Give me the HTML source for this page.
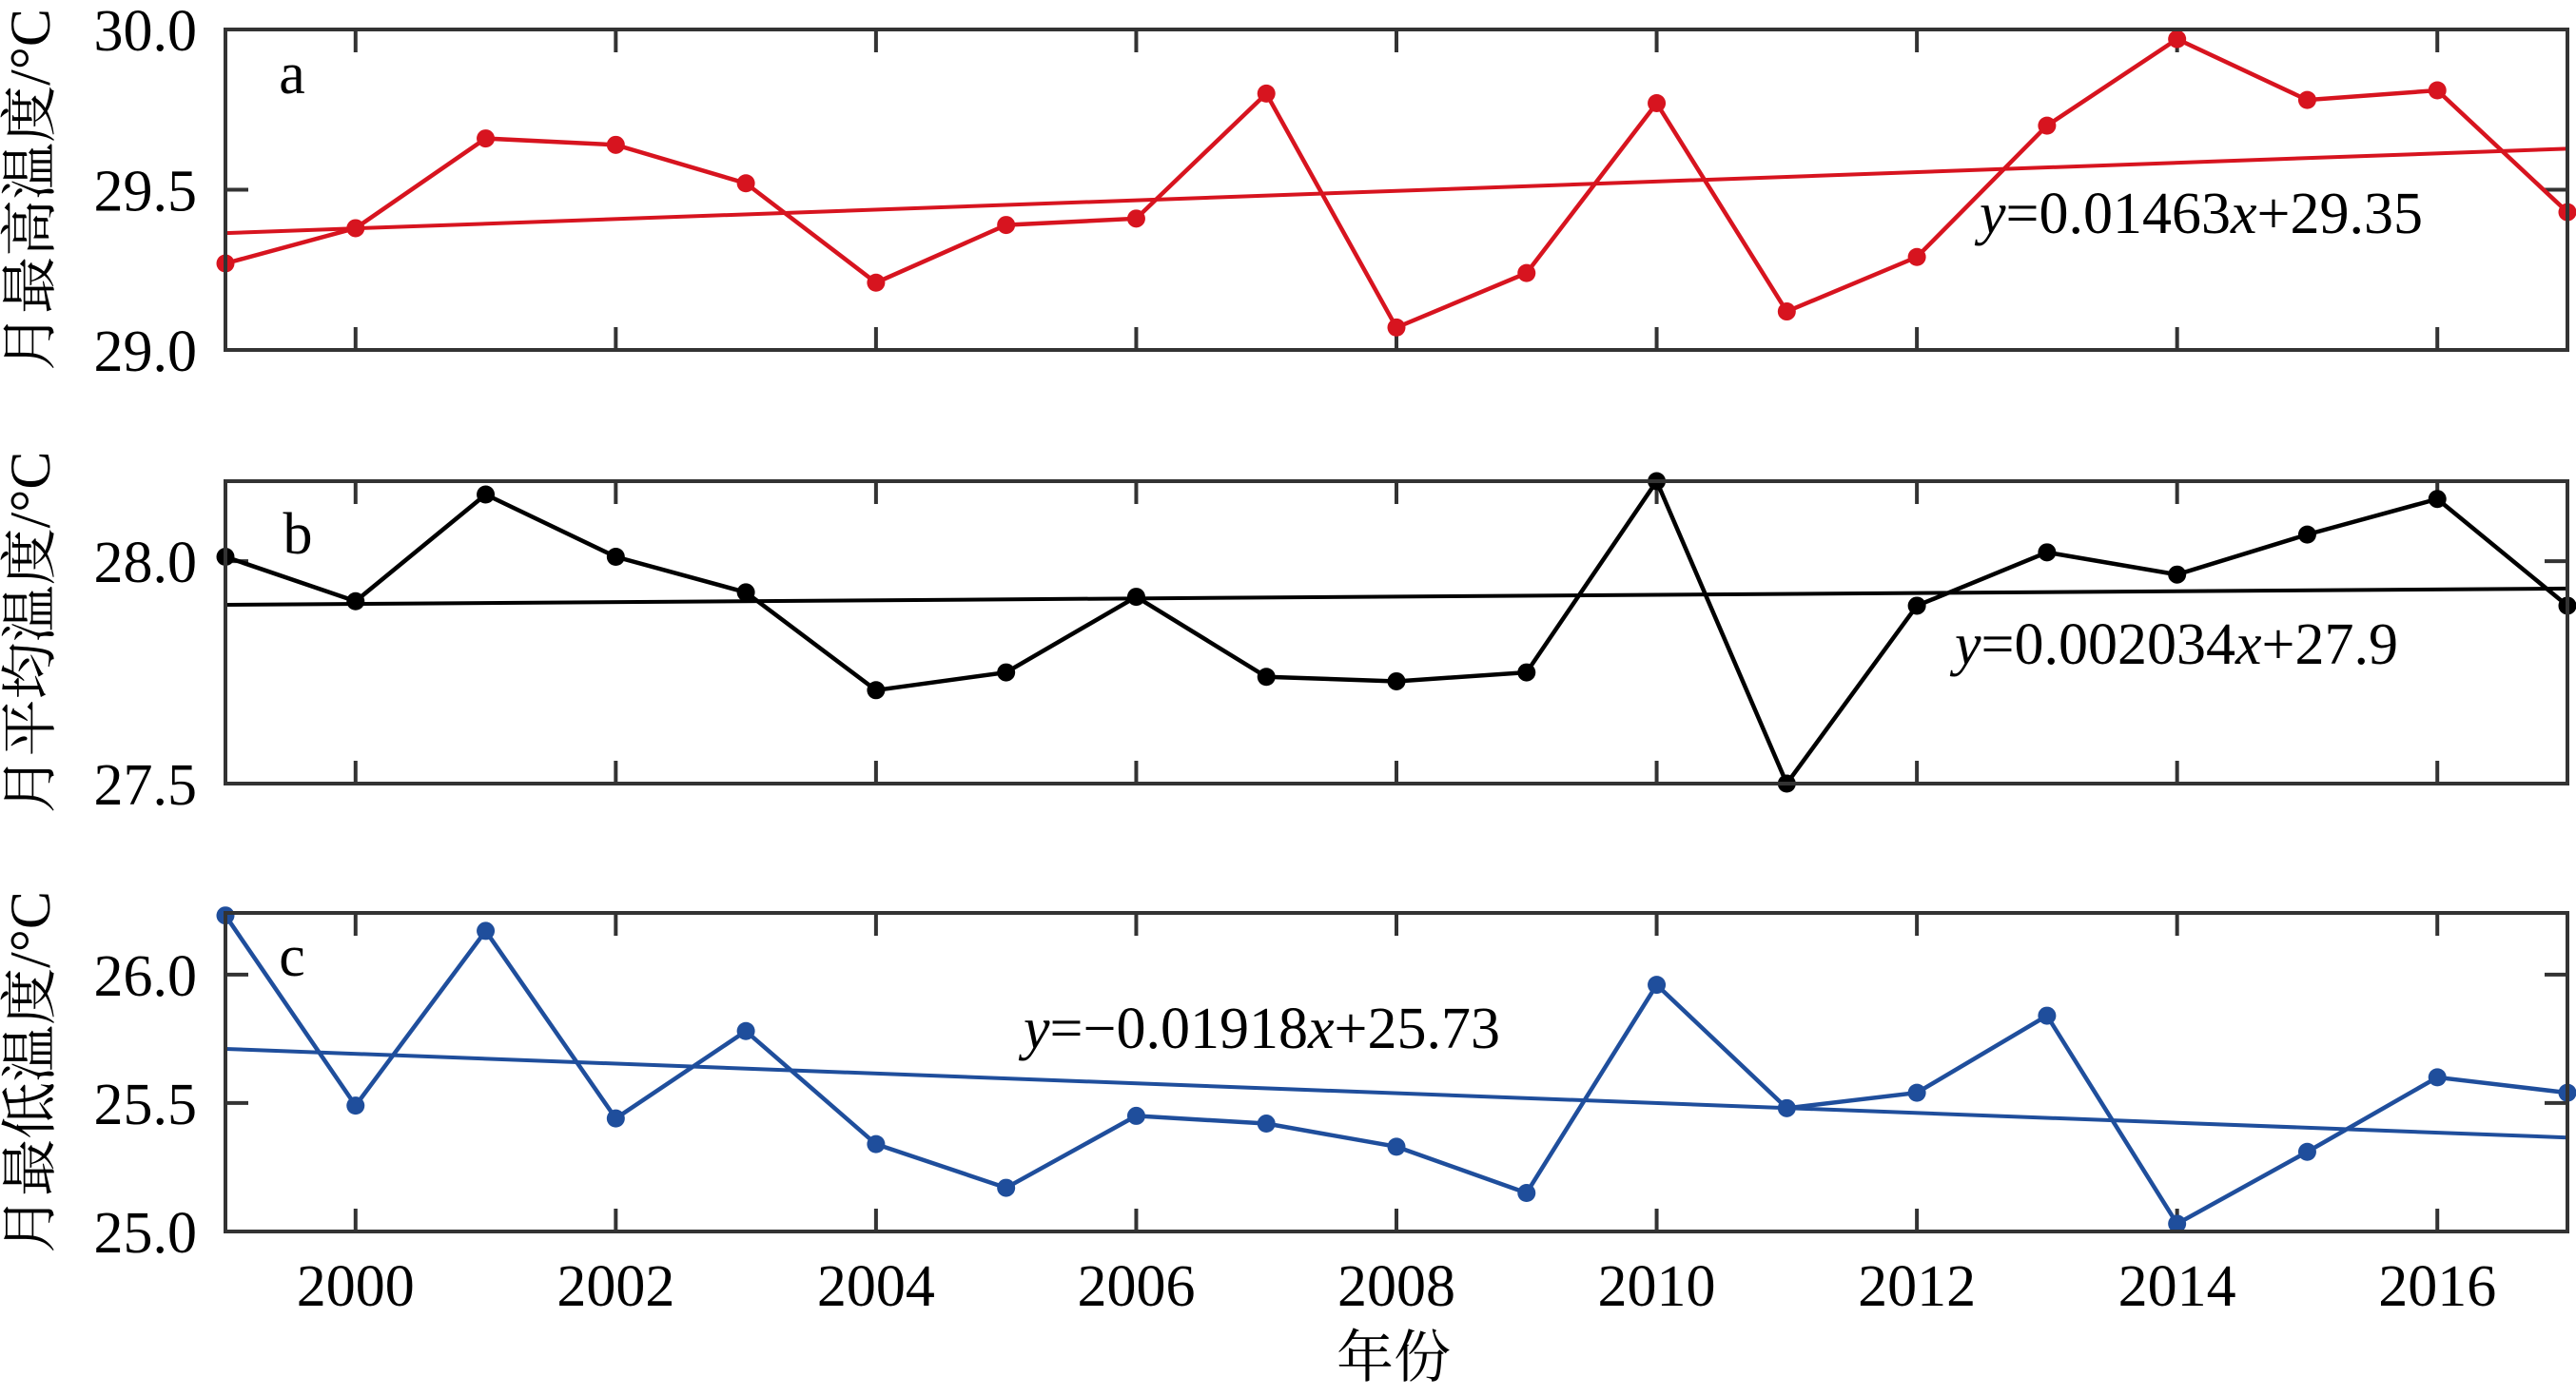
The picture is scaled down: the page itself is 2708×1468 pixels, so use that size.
<!DOCTYPE html>
<html><head><meta charset="utf-8"><style>
html,body{margin:0;padding:0;background:#fff}
svg text{font-family:"Liberation Serif","Noto Serif CJK SC",serif;fill:#000}
</style></head><body>
<svg id="chart" width="2708" height="1463" viewBox="0 0 2708 1463" xmlns="http://www.w3.org/2000/svg">
<text x="1465" y="1448" font-size="60" text-anchor="middle" font-family="Liberation Serif, Noto Serif CJK SC, serif">年份</text>
</svg>
<script>
const years = [1999,2000,2001,2002,2003,2004,2005,2006,2007,2008,2009,2010,2011,2012,2013,2014,2015,2016,2017];
const maxTemp = [29.27,29.38,29.66,29.64,29.52,29.21,29.39,29.41,29.80,29.07,29.24,29.77,29.12,29.29,29.70,29.97,29.78,29.81,29.43];
const meanTemp = [28.01,27.91,28.15,28.01,27.93,27.71,27.75,27.92,27.74,27.73,27.75,28.18,27.50,27.90,28.02,27.97,28.06,28.14,27.90];
const minTemp = [26.23,25.49,26.17,25.44,25.78,25.34,25.17,25.45,25.42,25.33,25.15,25.96,25.48,25.54,25.84,25.03,25.31,25.60,25.54];
const xTicks = [2000,2002,2004,2006,2008,2010,2012,2014,2016];
const ticksA = ["29.0","29.5","30.0"];
const ticksB = ["27.5","28.0"];
const ticksC = ["25.0","25.5","26.0"];
const slopeA = 0.01463, interA = 29.35;
const slopeB = 0.002034, interB = 27.9;
const slopeC = -0.01918, interC = 25.73;

const NS = "http://www.w3.org/2000/svg";
const FF = '"Liberation Serif", "Noto Serif CJK SC", serif';
const svg = document.getElementById('chart');
const L = 237, R = 2699;
const xs = y => L + (y - 1999) / (2017 - 1999) * (R - L);
function mk(tag, attrs, parent){ const e = document.createElementNS(NS, tag); for (const k in attrs) e.setAttribute(k, attrs[k]); (parent||svg).appendChild(e); return e; }

const panels = [
  {id:'a', top:31, bot:368, lo:29, hi:30, vals:maxTemp, ticks:ticksA, color:'#d7141f', slope:slopeA, inter:interA, title:'月最高温度/°C',
   eq:{x:2081,y:245,pre:'=0.01463',post:'+29.35'}, lab:{x:307,y:98}},
  {id:'b', top:506, bot:824, lo:27.5, hi:28.18, vals:meanTemp, ticks:ticksB, color:'#000000', slope:slopeB, inter:interB, title:'月平均温度/°C',
   eq:{x:2055,y:698,pre:'=0.002034',post:'+27.9'}, lab:{x:313,y:582}},
  {id:'c', top:960, bot:1295, lo:25, hi:26.24, vals:minTemp, ticks:ticksC, color:'#1f4e9c', slope:slopeC, inter:interC, title:'月最低温度/°C',
   eq:{x:1076,y:1102,pre:'=\u22120.01918',post:'+25.73'}, lab:{x:307,y:1026}}
];

panels.forEach(p => {
  const ys = v => p.bot - (v - p.lo) / (p.hi - p.lo) * (p.bot - p.top);
  const g = mk('g', {});
  
  
  xTicks.forEach(t => {
    const x = xs(t);
    const t1 = mk('line', {x1:x, x2:x, y1:p.bot, y2:p.bot-24, stroke:'#333', 'stroke-width':4}, g);
    
    
    const t2 = mk('line', {x1:x, x2:x, y1:p.top, y2:p.top+24, stroke:'#333', 'stroke-width':4}, g);
    
    
    if (p.id === 'c') {
      const tl = mk('text', {x:x, y:1373, 'font-size':62, 'text-anchor':'middle', 'font-family':FF}, g);
      
      
      tl.textContent = t;
    }
  });
  p.ticks.forEach(t => {
    const y = ys(parseFloat(t));
    const a1 = mk('line', {x1:L, x2:L+24, y1:y, y2:y, stroke:'#333', 'stroke-width':4}, g);
    
    
    const a2 = mk('line', {x1:R, x2:R-24, y1:y, y2:y, stroke:'#333', 'stroke-width':4}, g);
    
    
    const tl = mk('text', {x:207, y:y+22, 'font-size':62, 'text-anchor':'end', 'font-family':FF}, g);
    
    
    tl.textContent = t;
  });
  const pts = p.vals.map((v,i) => xs(years[i]) + ',' + ys(v)).join(' ');
  const pl = mk('polyline', {points:pts, fill:'none', stroke:p.color, 'stroke-width':4.5}, g);
  
  
  const tr = mk('line', {x1:xs(1999), y1:ys(p.inter + p.slope*1), x2:xs(2017), y2:ys(p.inter + p.slope*19), stroke:p.color, 'stroke-width':4}, g);
  
  
  p.vals.forEach((v,i) => {
    const c = mk('circle', {cx:xs(years[i]), cy:ys(v), r:9.5, fill:p.color}, g);
    
    
  });
  const fr = mk('rect', {x:L, y:p.top, width:R-L, height:p.bot-p.top, fill:'none', stroke:'#333', 'stroke-width':4}, g);
  
  
  const lb = mk('text', {x:p.lab.x, y:p.lab.y, 'font-size':62, 'text-anchor':'middle', 'font-family':FF}, g);
  
  
  lb.textContent = p.id;
  const eq = mk('text', {x:p.eq.x, y:p.eq.y, 'font-size':62, 'font-family':FF}, g);
  
  
  const s1 = mk('tspan', {'font-style':'italic'}, eq); s1.textContent = 'y';
  const s2 = mk('tspan', {}, eq); s2.textContent = p.eq.pre;
  const s3 = mk('tspan', {'font-style':'italic'}, eq); s3.textContent = 'x';
  const s4 = mk('tspan', {}, eq); s4.textContent = p.eq.post;
  const cy = (p.top + p.bot) / 2;
  const yt = mk('text', {x:0, y:0, 'font-size':60, 'text-anchor':'middle', 'font-family':FF, transform:'translate(52,' + cy + ') rotate(-90)'}, g);
  
  
  yt.textContent = p.title;
});
</script>
</body></html>
